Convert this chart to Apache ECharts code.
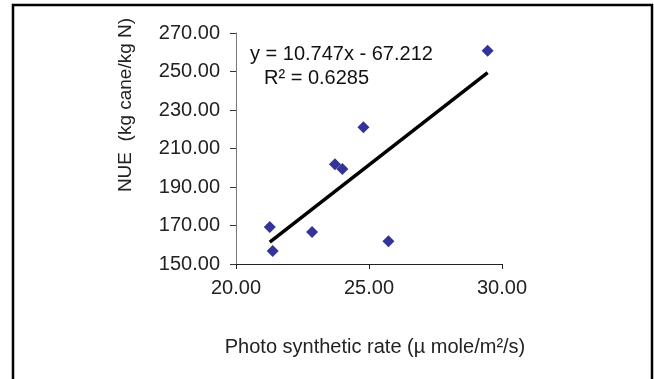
<!DOCTYPE html>
<html>
<head>
<meta charset="utf-8">
<script src="https://cdn.jsdelivr.net/npm/echarts@6/dist/echarts.min.js"></script>
<style>
html,body{margin:0;padding:0;background:#fff;}
#c{width:654px;height:379px;}
</style>
</head>
<body>
<div id="c"></div>
<script>
var photoRate = [29.46, 24.79, 23.72, 24.00, 21.27, 21.38, 22.86, 25.73];
var nue = [260.8, 221.0, 201.8, 199.4, 169.2, 156.8, 166.6, 161.8];
var trendX = [21.27, 29.46];
var trendY = [161.4, 249.4];
var equationText = 'y = 10.747x - 67.212';
var r2Text = 'R² = 0.6285';
var xTitle = 'Photo synthetic rate (µ mole/m²/s)';
var yTitle = 'NUE  (kg cane/kg N)';

var pts = photoRate.map(function (x, i) { return [x, nue[i]]; });
var trend = trendX.map(function (x, i) { return [x, trendY[i]]; });
var font = 'Liberation Sans, Arial, sans-serif';

var chart = echarts.init(document.getElementById('c'), null, {renderer: 'canvas'});
chart.setOption({
  backgroundColor: '#fff',
  animation: false,
  grid: {left: 236, top: 33, right: 152, bottom: 115},
  graphic: [
    {type: 'rect', shape: {x: 13, y: 5, width: 639, height: 420}, style: {fill: 'none', stroke: '#000', lineWidth: 2.5}, z: 100},
    {type: 'text', x: 250, y: 54, style: {text: equationText, font: '20px ' + font, fill: '#111', textVerticalAlign: 'middle'}},
    {type: 'text', x: 264, y: 78, style: {text: r2Text, font: '20px ' + font, fill: '#111', textVerticalAlign: 'middle'}},
    {type: 'text', x: 126, y: 105, rotation: Math.PI / 2,
     style: {text: yTitle, font: '19px ' + font, fill: '#222', textAlign: 'center', textVerticalAlign: 'middle'}},
    {type: 'text', x: 375, y: 347, style: {text: xTitle, font: '20px ' + font, fill: '#222', textAlign: 'center', textVerticalAlign: 'middle'}}
  ],
  xAxis: {
    type: 'value', min: 20, max: 30, interval: 5,
    axisLine: {onZero: false, lineStyle: {color: '#222', width: 1.2}},
    axisTick: {show: true, length: 5, lineStyle: {color: '#222'}},
    axisLabel: {formatter: function (v) { return v.toFixed(2); }, fontSize: 20, fontFamily: font, color: '#222', margin: 14},
    splitLine: {show: false}
  },
  yAxis: {
    type: 'value', min: 150, max: 270, interval: 20,
    axisLine: {show: true, onZero: false, lineStyle: {color: '#777', width: 1}},
    axisTick: {show: true, length: 6, lineStyle: {color: '#333'}},
    axisLabel: {formatter: function (v) { return v.toFixed(2); }, fontSize: 20, fontFamily: font, color: '#222', margin: 16},
    splitLine: {show: false}
  },
  series: [
    {type: 'line', data: trend, symbol: 'none', lineStyle: {color: '#000', width: 3.5}, z: 2},
    {type: 'scatter', data: pts, symbol: 'diamond', symbolSize: [12, 12], itemStyle: {color: '#000080'}, z: 3}
  ]
});
</script>
</body>
</html>
